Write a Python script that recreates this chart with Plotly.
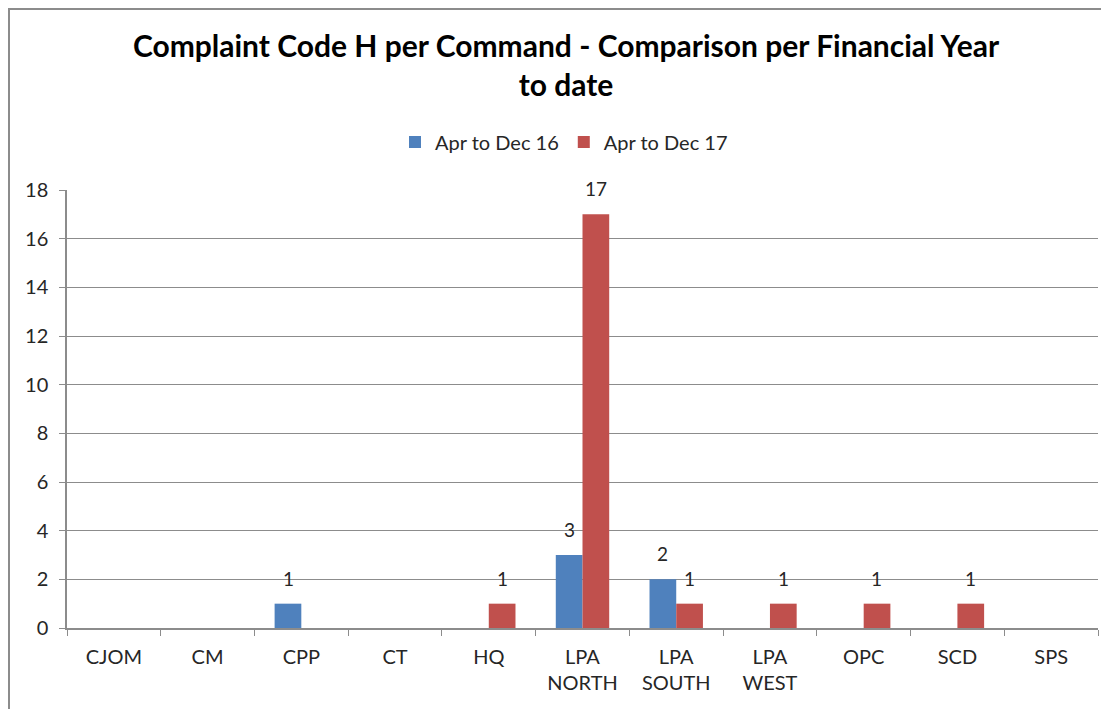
import plotly.graph_objects as go

categories = ["CJOM", "CM", "CPP", "CT", "HQ", "LPA<br>NORTH", "LPA<br>SOUTH",
              "LPA<br>WEST", "OPC", "SCD", "SPS"]
series_names = ["Apr to Dec 16", "Apr to Dec 17"]
values_16 = [0, 0, 1, 0, 0, 3, 2, 0, 0, 0, 0]
values_17 = [0, 0, 0, 0, 1, 17, 1, 1, 1, 1, 0]
y_ticks = [0, 2, 4, 6, 8, 10, 12, 14, 16, 18]

colors = ["#4F81BD", "#C0504D"]
FONT = "Lato"

# page has an 8px body margin; figure sized so it ends at window edge
W, H = 1101, 701
ML, MR, MT, MB = 59, 11, 182, 81
PW = W - ML - MR
PH = H - MT - MB

fig = go.Figure()
for name, vals, col in zip(series_names, [values_16, values_17], colors):
    fig.add_trace(go.Bar(x=categories, y=vals, name=name, marker_color=col,
                         marker_line_width=0))

annotations = []
for vals, shift in [(values_16, -13.3), (values_17, 13.3)]:
    for c, v in zip(categories, vals):
        if v:
            annotations.append(dict(x=c, y=v, xref="x", yref="y", text=str(v),
                                    showarrow=False, xshift=shift, yshift=12,
                                    yanchor="bottom",
                                    font=dict(family=FONT, size=19, color="#262626")))

def px_x(p):
    return (p - ML) / PW

def px_y(p):
    return (H - MB - p) / PH

border = "#8C8C8C"
shapes = [
    dict(type="line", xref="paper", yref="paper", x0=px_x(0), x1=px_x(W), y0=px_y(1), y1=px_y(1),
         line=dict(color=border, width=2)),
    dict(type="line", xref="paper", yref="paper", x0=px_x(1), x1=px_x(1), y0=px_y(0), y1=px_y(H),
         line=dict(color=border, width=2)),
]

fig.update_layout(
    width=W, height=H,
    margin=dict(l=ML, r=MR, t=MT, b=MB, autoexpand=False),
    paper_bgcolor="white", plot_bgcolor="white",
    font=dict(family=FONT, size=20, color="#262626"),
    title=dict(text="<b>Complaint Code H per Command - Comparison per Financial Year<br>to date</b>",
               x=558 / W, xanchor="center", y=1 - 49 / H, yanchor="middle",
               font=dict(family=FONT, size=30, color="#000000")),
    legend=dict(orientation="h", x=556 / W, xref="container", xanchor="center",
                y=1 - 134 / H, yref="container", yanchor="middle",
                font=dict(family=FONT, size=20, color="#262626"),
                itemwidth=30, traceorder="normal"),
    barmode="group", bargap=0.43, bargroupgap=0,
    annotations=annotations, shapes=shapes,
    showlegend=True,
)
fig.update_xaxes(showline=True, linecolor="#8C8C8C", linewidth=1.5, ticks="outside",
                 tickson="boundaries", ticklen=6, tickcolor="#8C8C8C", showgrid=False,
                 ticklabelstandoff=10,
                 tickfont=dict(family=FONT, size=20, color="#262626"))
fig.update_yaxes(range=[0, 18], tickvals=y_ticks, showline=True, linecolor="#8C8C8C",
                 linewidth=1.5, ticks="outside", ticklen=6, tickcolor="#8C8C8C",
                 showgrid=True, gridcolor="#8C8C8C", gridwidth=1, zeroline=False,
                 ticklabelstandoff=7,
                 tickfont=dict(family=FONT, size=20, color="#262626"))

fig.write_html("out.html")
